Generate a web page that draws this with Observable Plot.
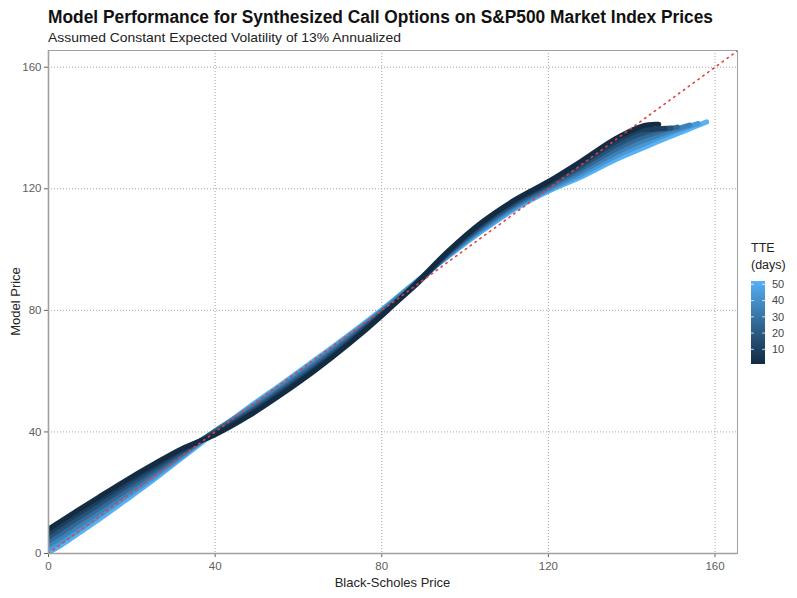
<!DOCTYPE html>
<html>
<head>
<meta charset="utf-8">
<script src="https://cdn.jsdelivr.net/npm/d3@7"></script>
<script src="https://cdn.jsdelivr.net/npm/@observablehq/plot@0.6"></script>
<style>
  body { margin: 0; background: #ffffff; }
  #chart { width: 797px; height: 598px; }
</style>
</head>
<body>
<div id="chart"></div>
<script>
const FONT = "'Liberation Sans', Arial, Helvetica, sans-serif";

// Axis / legend tick labels
const xTicks = [0, 40, 80, 120, 160];
const yTicks = [0, 40, 80, 120, 160];
const legendTicks = [10, 20, 30, 40, 50];
const tteRange = [1, 52];
const identityLine = [0, 166];

// Time to expiry (days) of each series (light drawn first, dark on top)
const tteDays = [52, 43, 35, 26, 17, 9, 1];

// Black-Scholes price (x) for each series
const bsGrid = [0, 3, 7, 12, 18, 25, 32, 40, 48, 56, 64, 72, 80, 88, 96, 104, 112, 120, 128, 136, 142];
const bs_01 = [...bsGrid, 144, 146.5];
const bs_09 = [...bsGrid, 145, 148];
const bs_17 = [...bsGrid, 146, 149.5];
const bs_26 = [...bsGrid, 147, 151];
const bs_35 = [...bsGrid, 148, 154];
const bs_43 = [...bsGrid, 149, 156];
const bs_52 = [...bsGrid, 148, 153, 158];

// Model price (y) for each series
const model_01 = [8, 10.7, 14.2, 18.5, 23.6, 29.2, 34.5, 39.1, 45.2, 52.4, 60.2, 68.8, 78.2, 88.6, 99.6, 109, 116.4, 122.4, 129.2, 136.4, 140.4, 141.1, 141.2];
const model_09 = [6.8, 9.5, 13, 17.4, 22.6, 28.4, 34, 39.5, 45.6, 52.9, 60.7, 69.2, 78.5, 88.2, 99.3, 108.6, 116, 121.9, 128.4, 135.4, 139.3, 139.6, 139.8];
const model_17 = [5.5, 8.1, 11.7, 16.1, 21.5, 27.5, 33.5, 39.9, 46.1, 53.5, 61.3, 69.8, 78.8, 88.1, 99, 108, 115.4, 121.4, 127.5, 134.2, 138, 139.6, 140];
const model_26 = [4.2, 6.7, 10.3, 14.8, 20.3, 26.6, 32.9, 40.2, 46.6, 54.1, 62, 70.3, 79.2, 88.3, 98.7, 107.5, 114.9, 120.8, 126.6, 132.9, 136.7, 139, 140.3];
const model_35 = [2.8, 5.3, 8.9, 13.5, 19.1, 25.7, 32.4, 40.4, 47.1, 54.7, 62.6, 70.8, 79.6, 88.7, 98.4, 107, 114.4, 120.2, 125.7, 131.7, 135.4, 138.4, 141];
const model_43 = [1.5, 4, 7.6, 12.3, 18.1, 24.8, 31.9, 40.2, 47.6, 55.3, 63.1, 71.3, 79.9, 89, 98.1, 106.5, 113.9, 119.7, 124.8, 130.6, 134.2, 138.2, 141.5];
const model_52 = [0.3, 2.7, 6.4, 11.1, 17, 24, 31.4, 39.8, 48, 55.8, 63.7, 71.8, 80.2, 89.2, 97.8, 106, 113.4, 119.2, 124, 129.5, 133, 136.5, 139.2, 142];

const seriesBS = {1: bs_01, 9: bs_09, 17: bs_17, 26: bs_26, 35: bs_35, 43: bs_43, 52: bs_52};
const seriesModel = {1: model_01, 9: model_09, 17: model_17, 26: model_26, 35: model_35, 43: model_43, 52: model_52};

const rows = tteDays.flatMap(t =>
  seriesBS[t].map((b, j) => ({tte: t, bs: b, model: seriesModel[t][j]}))
);

const lowColor = "#132B43", highColor = "#56B1F7";
const gridColor = "#a3a3a3";
const axisColor = "#a0a0a0";

const W = 797, H = 598;
const mL = 48, mR = W - 737, mT = 50, mB = H - 553;

const svgNode = Plot.plot({
  width: W,
  height: H,
  marginLeft: mL,
  marginRight: mR,
  marginTop: mT,
  marginBottom: mB,
  style: {fontFamily: FONT, fontSize: "11.5px", color: "#606060", background: "#ffffff"},
  x: {domain: [0, 165.4], ticks: xTicks, tickSize: 4, tickPadding: 4, label: null},
  y: {domain: [0, 165.5], ticks: yTicks, tickSize: 4, tickPadding: 3, label: null},
  color: {type: "linear", domain: tteRange, range: [lowColor, highColor], interpolate: d3.interpolateLab},
  marks: [
    Plot.ruleX(xTicks, {stroke: gridColor, strokeWidth: 1, strokeDasharray: "1,2"}),
    Plot.ruleY(yTicks, {stroke: gridColor, strokeWidth: 1, strokeDasharray: "1,2"}),
    Plot.line(rows, {x: "bs", y: "model", z: "tte", stroke: "tte", strokeWidth: 5,
      curve: "catmull-rom", strokeLinecap: "round", strokeLinejoin: "round", clip: true}),
    Plot.line(identityLine, {x: d => d, y: d => d, stroke: "#e2403f", strokeWidth: 1.6,
      strokeDasharray: "1.4,4.6", clip: true}),
    Plot.frame({stroke: axisColor, strokeWidth: 1}),
    Plot.ruleX([0], {stroke: axisColor, strokeWidth: 1.6}),
    Plot.ruleY([0], {stroke: axisColor, strokeWidth: 1.6})
  ]
});

document.getElementById("chart").appendChild(svgNode);
const svg = d3.select(svgNode);

// Title and subtitle
svg.append("text")
  .attr("x", 48).attr("y", 22.5).attr("text-anchor", "start")
  .attr("font-family", FONT).attr("font-size", 17.5).attr("font-weight", "bold")
  .attr("fill", "#111111")
  .attr("textLength", 665).attr("lengthAdjust", "spacingAndGlyphs")
  .text("Model Performance for Synthesized Call Options on S&P500 Market Index Prices");
svg.append("text")
  .attr("x", 48).attr("y", 41.5).attr("text-anchor", "start")
  .attr("font-family", FONT).attr("font-size", 13)
  .attr("fill", "#222222")
  .attr("textLength", 353).attr("lengthAdjust", "spacingAndGlyphs")
  .text("Assumed Constant Expected Volatility of 13% Annualized");

// Axis titles
svg.append("text")
  .attr("x", (mL + (W - mR)) / 2).attr("y", 586.5)
  .attr("text-anchor", "middle")
  .attr("font-family", FONT).attr("font-size", 13).attr("fill", "#262626")
  .text("Black-Scholes Price");
svg.append("text")
  .attr("transform", `translate(19.5,${(mT + (H - mB)) / 2}) rotate(-90)`)
  .attr("text-anchor", "middle")
  .attr("font-family", FONT).attr("font-size", 13).attr("fill", "#262626")
  .text("Model Price");

// Colour bar legend
const barX = 751, barW = 14, barTop = 281, barBottom = 364;
const interp = d3.interpolateLab(lowColor, highColor);
const grad = svg.append("defs").append("linearGradient")
  .attr("id", "tteGrad").attr("x1", 0).attr("y1", 1).attr("x2", 0).attr("y2", 0);
d3.range(0, 11).forEach(i => {
  grad.append("stop").attr("offset", i / 10).attr("stop-color", interp(i / 10));
});
svg.append("rect")
  .attr("x", barX).attr("y", barTop).attr("width", barW).attr("height", barBottom - barTop)
  .attr("fill", "url(#tteGrad)");
const ls = d3.scaleLinear().domain(tteRange).range([barBottom, barTop]);
const lg = svg.append("g");
legendTicks.forEach(v => {
  const y = ls(v);
  lg.append("line").attr("x1", barX).attr("x2", barX + 2.8).attr("y1", y).attr("y2", y)
    .attr("stroke", "#ffffff").attr("stroke-opacity", 0.8);
  lg.append("line").attr("x1", barX + barW - 2.8).attr("x2", barX + barW).attr("y1", y).attr("y2", y)
    .attr("stroke", "#ffffff").attr("stroke-opacity", 0.8);
  lg.append("text").attr("x", 772).attr("y", y).attr("dy", "0.35em").attr("text-anchor", "start")
    .attr("font-family", FONT).attr("font-size", 11).attr("fill", "#444444")
    .text(String(v));
});
svg.append("text").attr("x", barX).attr("y", 252).attr("text-anchor", "start")
  .attr("font-family", FONT).attr("font-size", 12.5).attr("fill", "#222222").text("TTE");
svg.append("text").attr("x", barX).attr("y", 269).attr("text-anchor", "start")
  .attr("font-family", FONT).attr("font-size", 12.5).attr("fill", "#222222").text("(days)");
</script>
</body>
</html>
